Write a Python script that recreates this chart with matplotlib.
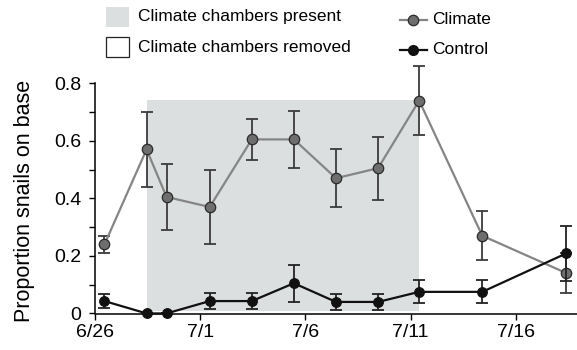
import numpy as np
import matplotlib
matplotlib.use("Agg")
import matplotlib.pyplot as plt
from matplotlib.patches import Rectangle
from matplotlib.lines import Line2D

plt.rcParams['font.family'] = ['Liberation Sans', 'DejaVu Sans']

# days after 6/26 (sampling dates)
days = [0.45, 2.45, 3.4, 5.45, 7.45, 9.45, 11.45, 13.45, 15.4, 18.4, 22.4]

climate = [0.24, 0.57, 0.405, 0.37, 0.605, 0.605, 0.47, 0.505, 0.74, 0.27, 0.14]
climate_err = [0.03, 0.13, 0.115, 0.13, 0.07, 0.10, 0.10, 0.11, 0.12, 0.085, 0.07]

control = [0.043, 0.0, 0.0, 0.043, 0.043, 0.105, 0.04, 0.04, 0.075, 0.075, 0.209]
control_err = [0.025, 0.0, 0.0, 0.027, 0.027, 0.065, 0.027, 0.027, 0.04, 0.04, 0.096]

tick_days = [0, 5, 10, 15, 20]
tick_labels = ['6/26', '7/1', '7/6', '7/11', '7/16']

# chambers present period
shade_start, shade_end = 2.45, 15.4
shade_bottom, shade_top = 0.008, 0.742

shade_col = '#dcdfe0'
clim_line = '#858585'
clim_face = '#6e6e6e'
err_col = '#3c3c3c'

fig = plt.figure(figsize=(5.77, 3.5), dpi=100)
ax = fig.add_axes([95/577, 1 - 314.3/350, 482/577, (314.3 - 83.3)/350])

ax.add_patch(Rectangle((shade_start, shade_bottom), shade_end - shade_start,
                       shade_top - shade_bottom, facecolor=shade_col,
                       edgecolor='none', zorder=0))

ax.errorbar(days, climate, yerr=climate_err, fmt='none', ecolor=err_col,
            elinewidth=1.3, capsize=4.5, capthick=1.3, zorder=2, clip_on=False)
ax.plot(days, climate, '-', color=clim_line, lw=1.6, zorder=3, clip_on=False)
ax.plot(days, climate, 'o', ms=7.5, mfc=clim_face, mec='#2a2a2a', mew=0.9,
        zorder=4, clip_on=False)

ax.errorbar(days, control, yerr=control_err, fmt='none', ecolor='#222222',
            elinewidth=1.3, capsize=4.5, capthick=1.3, zorder=5, clip_on=False)
ax.plot(days, control, '-', color='#111111', lw=1.6, zorder=6, clip_on=False)
ax.plot(days, control, 'o', ms=7, mfc='#111111', mec='#111111', mew=0.8,
        zorder=7, clip_on=False)

ax.set_xlim(0, 22.9)
ax.set_ylim(-0.003, 0.8)
ax.set_xticks(tick_days)
ax.set_xticklabels(tick_labels)
ax.set_yticks([0, 0.2, 0.4, 0.6, 0.8])
ax.set_yticklabels(['0', '0.2', '0.4', '0.6', '0.8'])
ax.set_yticks([0.1, 0.3, 0.5, 0.7], minor=True)

for s in ['top', 'right']:
    ax.spines[s].set_visible(False)
for s in ['left', 'bottom']:
    ax.spines[s].set_linewidth(1.1)
ax.spines['left'].set_bounds(0, 0.8)

ax.tick_params(axis='both', which='both', direction='out', length=4,
               width=1.0, labelsize=14)
ax.tick_params(axis='x', pad=3)
ax.tick_params(axis='y', pad=6)
ax.set_ylabel('Proportion snails on base', fontsize=15.5)
ax.yaxis.set_label_coords(-0.125, 0.49)

# legend, left block
fig.add_artist(Rectangle((106/577, 1 - 26.7/350), 23.3/577, 19.4/350,
                         transform=fig.transFigure, facecolor=shade_col,
                         edgecolor='none'))
fig.add_artist(Rectangle((106/577, 1 - 57.3/350), 23.3/577, 20.6/350,
                         transform=fig.transFigure, facecolor='white',
                         edgecolor='#222222', lw=0.9))
fig.text(138/577, 1 - 17/350, 'Climate chambers present', fontsize=12.5,
         va='center', ha='left')
fig.text(138/577, 1 - 47/350, 'Climate chambers removed', fontsize=12.5,
         va='center', ha='left')

# legend, right block
fig.add_artist(Line2D([400/577, 427/577], [1 - 20/350, 1 - 20/350],
                      transform=fig.transFigure, color=clim_line, lw=1.6))
fig.add_artist(Line2D([413.5/577], [1 - 20/350], transform=fig.transFigure,
                      marker='o', ms=7.5, mfc=clim_face, mec='#2a2a2a', mew=0.9))
fig.add_artist(Line2D([400/577, 427/577], [1 - 50/350, 1 - 50/350],
                      transform=fig.transFigure, color='#111111', lw=1.6))
fig.add_artist(Line2D([413.5/577], [1 - 50/350], transform=fig.transFigure,
                      marker='o', ms=7, mfc='#111111', mec='#111111'))
fig.text(432/577, 1 - 20/350, 'Climate', fontsize=12.5, va='center', ha='left')
fig.text(432/577, 1 - 50/350, 'Control', fontsize=12.5, va='center', ha='left')

fig.savefig('out.png', dpi=100)
